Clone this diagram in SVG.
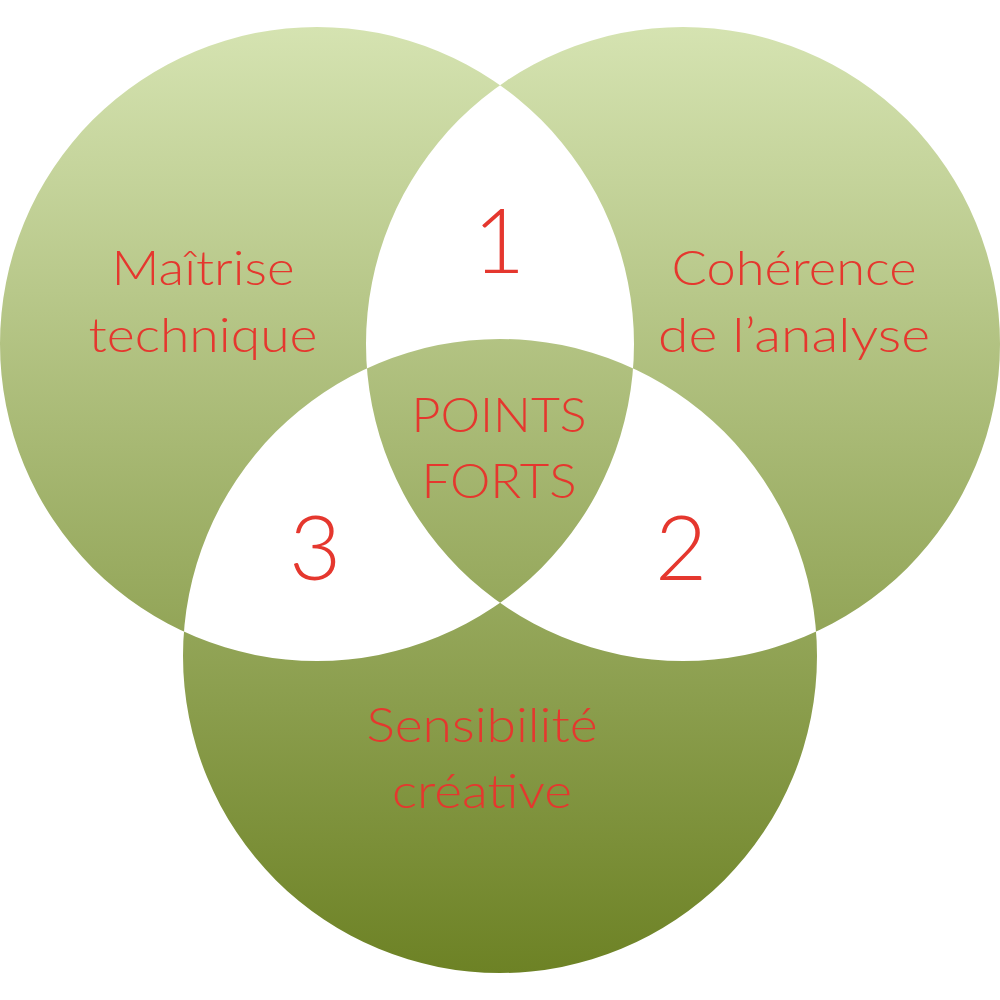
<svg xmlns="http://www.w3.org/2000/svg" width="1000" height="1000" viewBox="0 0 1000 1000">
<defs>
<linearGradient id="g" gradientUnits="userSpaceOnUse" x1="0" y1="27" x2="0" y2="973">
<stop offset="0" stop-color="#d5e3b1"/>
<stop offset="1" stop-color="#6d8225"/>
</linearGradient>
</defs>
<style>
text{font-family:"Lato","Open Sans","Liberation Sans",sans-serif;font-weight:300;fill:#e5372e;text-anchor:middle}
.l{font-size:47px}
.n{font-size:90px}
</style>
<rect width="1000" height="1000" fill="#ffffff"/>
<g id="venn">
<path fill="url(#g)" fill-rule="evenodd" d="M0,344a317,317 0 1,0 634,0a317,317 0 1,0 -634,0Z M366,344a317,317 0 1,0 634,0a317,317 0 1,0 -634,0Z M183,656a317,317 0 1,0 634,0a317,317 0 1,0 -634,0Z"/>
</g>
<g id="node-technique">
<text class="l" x="203" y="285" textLength="183" lengthAdjust="spacingAndGlyphs">Maîtrise</text>
<text class="l" x="203" y="352" textLength="229" lengthAdjust="spacingAndGlyphs">technique</text>
</g>
<g id="node-analyse">
<text class="l" x="794" y="285" textLength="245" lengthAdjust="spacingAndGlyphs">Cohérence</text>
<text class="l" x="794" y="352" textLength="272" lengthAdjust="spacingAndGlyphs">de l’analyse</text>
</g>
<g id="node-sensibilite">
<text class="l" x="482" y="742" textLength="231" lengthAdjust="spacingAndGlyphs">Sensibilité</text>
<text class="l" x="482" y="808" textLength="180" lengthAdjust="spacingAndGlyphs">créative</text>
</g>
<g id="node-points-forts">
<text class="l" x="499" y="432" textLength="175" lengthAdjust="spacingAndGlyphs">POINTS</text>
<text class="l" x="499" y="498" textLength="155" lengthAdjust="spacingAndGlyphs">FORTS</text>
</g>
<g id="node-1"><text class="n" x="499" y="273">1</text></g>
<g id="node-2"><text class="n" x="681" y="580">2</text></g>
<g id="node-3"><text class="n" x="315" y="580">3</text></g>
<g id="connectors"></g>
</svg>
